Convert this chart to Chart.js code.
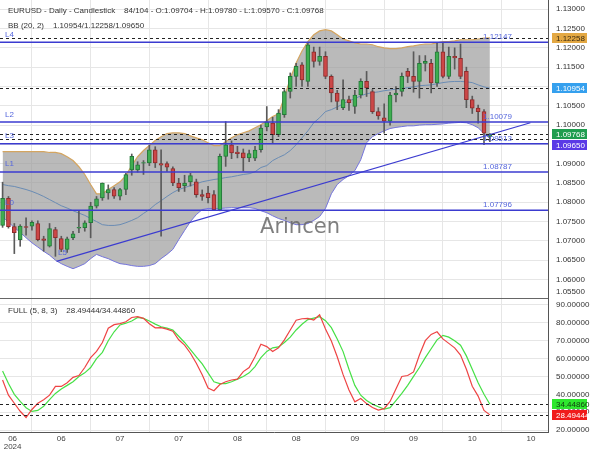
<!DOCTYPE html>
<html>
<head>
<meta charset="utf-8">
<script src="https://cdn.jsdelivr.net/npm/chart.js@4.4.1/dist/chart.umd.min.js"></script>
<style>
html,body{margin:0;padding:0;background:#ffffff;overflow:hidden;}
canvas{display:block;}
</style>
</head>
<body>
<canvas id="chart" width="600" height="450"></canvas>
<script>
// ---------------- DATA ----------------
const TITLE = 'EURUSD - Daily - Candlestick';
const BAR_COUNT = '84/104';
const BB_NAME = 'BB (20, 2)';
const STOCH_NAME = 'FULL (5, 8, 3)';
const WATERMARK = 'Arincen';

const OPEN = [1.0740,1.0810,1.0737,1.0703,1.0737,1.0738,1.0745,1.0705,1.0686,1.0729,
 1.0706,1.0678,1.0708,1.0733,1.0734,1.0747,1.0790,1.0811,1.0824,1.0833,
 1.0816,1.0833,1.0884,1.0884,1.0901,1.0902,1.0936,1.0900,1.0900,1.0887,
 1.0850,1.0843,1.0853,1.0853,1.0820,1.0824,1.0820,1.0781,1.0919,1.0949,
 1.0930,1.0928,1.0915,1.0914,1.0936,1.0995,1.1005,1.0975,1.1027,1.1087,
 1.1126,1.1156,1.1113,1.1190,1.1165,1.1178,1.1126,1.1083,1.1045,1.1066,
 1.1048,1.1078,1.1113,1.1087,1.1035,1.1019,1.1010,1.1078,1.1087,1.1139,
 1.1126,1.1113,1.1160,1.1160,1.1109,1.1190,1.1126,1.1178,1.1173,1.1139,
 1.1066,1.1044,1.1035,1.09704];
const HIGH = [1.0852,1.0815,1.0745,1.0742,1.0760,1.0752,1.0752,1.0712,1.0745,1.0735,
 1.0712,1.0710,1.0725,1.0777,1.0752,1.0800,1.0815,1.0850,1.0845,1.0838,
 1.0836,1.0875,1.0925,1.0905,1.0908,1.0948,1.0944,1.0936,1.0905,1.0892,
 1.0862,1.0870,1.0875,1.0860,1.0832,1.0841,1.0830,1.0925,1.1009,1.0959,
 1.0945,1.0938,1.0935,1.0945,1.1000,1.1048,1.1020,1.1040,1.1092,1.1135,
 1.1160,1.1162,1.1212,1.1202,1.1202,1.1190,1.1130,1.1090,1.1117,1.1075,
 1.1090,1.1120,1.1139,1.1092,1.1045,1.1055,1.1085,1.1100,1.1135,1.1147,
 1.1190,1.1180,1.1180,1.1170,1.1214,1.1212,1.1202,1.1200,1.1210,1.1150,
 1.1075,1.1052,1.1040,1.09780];
const LOW = [1.0735,1.0733,1.0667,1.0686,1.0715,1.0728,1.0700,1.0673,1.0684,1.0660,
 1.0672,1.0670,1.0703,1.0721,1.0725,1.0708,1.0785,1.0805,1.0808,1.0810,
 1.0806,1.0820,1.0870,1.0878,1.0872,1.0895,1.0890,1.0712,1.0880,1.0843,
 1.0828,1.0828,1.0842,1.0813,1.0805,1.0798,1.0778,1.0778,1.0893,1.0913,
 1.0915,1.0881,1.0905,1.0908,1.0930,1.0985,1.0954,1.0970,1.1020,1.1070,
 1.1100,1.1100,1.1100,1.1150,1.1155,1.1120,1.1060,1.1040,1.1040,1.1038,
 1.1030,1.1070,1.1074,1.1030,1.1015,1.0979,1.1000,1.1060,1.1075,1.1110,
 1.1085,1.1070,1.1140,1.1083,1.1100,1.1122,1.1120,1.1145,1.1120,1.1045,
 1.1030,1.1005,1.0949,1.09570];
const CLOSE = [1.0810,1.0737,1.0721,1.0738,1.0735,1.0748,1.0703,1.0701,1.0732,1.0708,
 1.0678,1.0705,1.0718,1.0735,1.0747,1.0790,1.0809,1.0850,1.0833,1.0816,
 1.0833,1.0872,1.0919,1.0897,1.0903,1.0936,1.0902,1.0896,1.0891,1.0850,
 1.0838,1.0850,1.0869,1.0820,1.0815,1.0812,1.0781,1.0919,1.0949,1.0928,
 1.0926,1.0915,1.0926,1.0935,1.0992,1.1008,1.0975,1.1031,1.1087,1.1126,
 1.1152,1.1117,1.1208,1.1165,1.1178,1.1126,1.1083,1.1061,1.1066,1.1058,
 1.1078,1.1113,1.1096,1.1035,1.1024,1.1010,1.1078,1.1083,1.1126,1.1126,
 1.1113,1.1160,1.1165,1.1109,1.1190,1.1126,1.1178,1.1174,1.1126,1.1066,
 1.1044,1.1035,1.0979,1.09768];

const BB_UPPER = [1.0931,1.0931,1.0931,1.0931,1.0931,1.0931,1.0931,1.0931,1.0929,1.0929,
 1.0926,1.0918,1.0908,1.0892,1.0872,1.0846,1.0822,1.0822,1.0833,1.0843,
 1.0853,1.0869,1.0895,1.0918,1.0934,1.0947,1.0960,1.0970,1.0978,1.0980,
 1.0980,1.0978,1.0972,1.0967,1.0962,1.0954,1.0947,1.0947,1.0957,1.0967,
 1.0975,1.0980,1.0985,1.0993,1.1001,1.1011,1.1022,1.1029,1.1073,1.1120,
 1.1161,1.1192,1.1216,1.1234,1.1244,1.1247,1.1244,1.1234,1.1223,1.1218,
 1.1213,1.1210,1.1210,1.1208,1.1203,1.1200,1.1198,1.1198,1.1200,1.1203,
 1.1205,1.1208,1.1210,1.1210,1.1213,1.1216,1.1216,1.1218,1.1221,1.1221,
 1.1221,1.1223,1.1225,1.12258];
const BB_MID = [1.0846,1.0843,1.0841,1.0837,1.0833,1.0828,1.0822,1.0815,1.0807,1.0799,
 1.0791,1.0785,1.0778,1.0772,1.0766,1.0758,1.0750,1.0742,1.0740,1.0740,
 1.0742,1.0747,1.0753,1.0760,1.0771,1.0781,1.0794,1.0804,1.0815,1.0825,
 1.0833,1.0838,1.0843,1.0848,1.0853,1.0856,1.0859,1.0861,1.0864,1.0866,
 1.0869,1.0872,1.0874,1.0879,1.0890,1.0895,1.0908,1.0916,1.0923,1.0934,
 1.0949,1.0967,1.0985,1.1006,1.1019,1.1035,1.1040,1.1047,1.1055,1.1063,
 1.1068,1.1076,1.1081,1.1084,1.1086,1.1089,1.1091,1.1093,1.1094,1.1097,
 1.1099,1.1102,1.1103,1.1104,1.1107,1.1110,1.1112,1.1113,1.1113,1.1112,
 1.1110,1.1104,1.1099,1.10954];
const BB_LOWER = [1.0762,1.0748,1.0735,1.0722,1.0708,1.0695,1.0684,1.0673,1.0663,1.0650,
 1.0641,1.0634,1.0628,1.0634,1.0641,1.0654,1.0665,1.0659,1.0654,1.0647,
 1.0641,1.0639,1.0636,1.0634,1.0634,1.0636,1.0641,1.0654,1.0665,1.0678,
 1.0703,1.0727,1.0750,1.0768,1.0781,1.0784,1.0784,1.0784,1.0785,1.0786,
 1.0786,1.0786,1.0786,1.0784,1.0778,1.0773,1.0765,1.0758,1.0753,1.0747,
 1.0742,1.0742,1.0745,1.0753,1.0763,1.0784,1.0822,1.0846,1.0859,1.0869,
 1.0882,1.0910,1.0954,1.0970,1.0978,1.0985,1.0991,1.0994,1.0996,1.0998,
 1.0998,1.1000,1.1001,1.1001,1.1002,1.1003,1.1005,1.1006,1.1007,1.1006,
 1.1001,1.0993,1.0978,1.0965];

const STOCH_K = [48,39.5,35,30.5,27,31.5,35,37,39.5,44.4,
 44.4,46.5,49.5,50.5,55,60.5,64,69,77,79,
 79.6,80.6,83,83.5,82.5,79.5,77.2,77.3,76.5,75.3,
 70.5,67.5,63,57.4,51,43.5,42,45.5,47,48,
 48.5,52.7,55,61,68,66.7,64,66,70.5,76,
 81.5,82.3,82.5,81.6,84.5,76.5,69.8,61,51,42.4,
 35.8,37.6,34.8,32.6,31.2,32,36,43,50,50.5,
 52.5,62,70,73.5,75,71,68.5,66,62,54,
 44.5,39,31,28.49444];
const STOCH_D = [53,46,40,36,32.5,30.4,31,33.3,37,40.5,
 43,45,47,50,52,55,60,63.5,70,75,
 78.8,79.8,81,83,82.5,81,79.3,77.8,77,76,
 72.5,69,65,61,57,52,47,46,46,47,
 48.5,50,52,55.5,60.5,64,66,66.5,69,72,
 76,79.2,81.8,82.6,83.4,81.2,77.3,71,63.9,54,
 45,39.5,36.5,34.5,33,31.7,32.5,36.5,40.5,45,
 50,55,60.5,65.5,70.5,73,72,70,67.5,61.5,
 54,46.5,40,34.4486];

const LEVEL_NAMES = ['L4','L2','L3','L1','L0'];
const LEVEL_VALUES = [1.12147, 1.10079, 1.09513, 1.08787, 1.07796];
const TREND_NAME = 'L5';
const TREND_X = [9.2, 89.9];
const TREND_Y = [1.0647, 1.1006];

const X_TICK_POS = [0,10,20,30,40,50,60,70,80,90];
const X_TICK_LABELS = ['06','06','07','07','08','08','09','09','10','10'];
const YEAR_LABEL = '2024';
const Y_TICKS = [1.055,1.060,1.065,1.070,1.075,1.080,1.085,1.090,1.095,1.100,1.105,1.110,1.115,1.120,1.125,1.130];
const STOCH_TICKS = [20,30,40,50,60,70,80,90];

// ---------------- CHART ----------------
const FONT = '"Liberation Sans", Arial, Helvetica, sans-serif';
Chart.defaults.font.family = FONT;
Chart.defaults.font.size = 8;
Chart.defaults.color = '#333';

const IDX = OPEN.map((_, i) => i);
const LAST = IDX.length - 1;
const isUp = i => CLOSE[i] >= OPEN[i];
const f5 = v => v.toFixed(5);

const X_MIN = -0.44, X_MAX = 92.9;
const Y_MIN = 1.0552, Y_MAX = 1.1324;
const S_MIN = 18.9, S_MAX = 93.9;
const MAIN_H = 298, SUB_H = 134, AXIS_W = 52, XAXIS_H = 18;
const GRID = '#e6e6e6';
const FIRST_PAD = ' '.repeat(9);

function noPad(s) { s.paddingLeft = 0; s.paddingRight = 0; s.paddingTop = 0; s.paddingBottom = 0; }

function hLine(ctx, x0, x1, py) { ctx.beginPath(); ctx.moveTo(x0, py); ctx.lineTo(x1, py); ctx.stroke(); }

function drawBoxes(ctx, scale, items) {
  const H = 10;
  const placed = items.map(it => Object.assign({}, it, {py: scale.getPixelForValue(it.v)}))
    .sort((a, b) => a.py - b.py);
  for (let i = 1; i < placed.length; i++) {
    if (placed[i].py - placed[i - 1].py < H + 1) placed[i].py = placed[i - 1].py + H + 1;
  }
  ctx.font = '8px ' + FONT;
  ctx.textAlign = 'left';
  ctx.textBaseline = 'middle';
  placed.forEach(p => {
    ctx.fillStyle = p.bg;
    ctx.fillRect(scale.left + 4, Math.round(p.py - H / 2), 35, H);
    ctx.fillStyle = p.fg;
    ctx.fillText(f5(p.v), scale.left + 8, p.py + 0.5);
  });
}

const overlay = {
  id: 'overlay',
  beforeDraw(chart) {
    const ctx = chart.ctx;
    ctx.save(); ctx.fillStyle = '#ffffff'; ctx.fillRect(0, 0, chart.width, chart.height); ctx.restore();
  },
  afterDatasetsDraw(chart) {
    const {ctx, chartArea: a} = chart;
    const {x, y, y2} = chart.scales;
    ctx.save();
    ctx.beginPath(); ctx.rect(a.left, a.top, a.right - a.left, a.bottom - a.top); ctx.clip();

    // watermark
    ctx.font = '21px "DejaVu Sans", sans-serif';
    ctx.fillStyle = 'rgba(105,105,105,0.85)';
    ctx.textAlign = 'center'; ctx.textBaseline = 'alphabetic';
    ctx.fillText(WATERMARK, 300, 232.5);

    // support / resistance levels
    ctx.strokeStyle = '#3b3bd0'; ctx.lineWidth = 1.5;
    LEVEL_VALUES.forEach(v => hLine(ctx, a.left, a.right, y.getPixelForValue(v)));

    // dashed markers of last values
    ctx.setLineDash([3, 3]); ctx.lineWidth = 1; ctx.strokeStyle = '#222';
    [BB_UPPER[LAST], BB_MID[LAST], CLOSE[LAST], BB_LOWER[LAST]].forEach(v =>
      hLine(ctx, a.left, a.right, Math.round(y.getPixelForValue(v)) + 0.5));
    [STOCH_D[LAST], STOCH_K[LAST]].forEach(v =>
      hLine(ctx, a.left, a.right, Math.round(y2.getPixelForValue(v)) + 0.5));
    ctx.setLineDash([]);

    // level labels
    ctx.font = '8px ' + FONT; ctx.fillStyle = '#5566dd';
    ctx.textAlign = 'left'; ctx.textBaseline = 'alphabetic';
    LEVEL_VALUES.forEach((v, i) => {
      const py = y.getPixelForValue(v);
      ctx.fillText(LEVEL_NAMES[i], a.left + 5, py - 5.5);
      ctx.fillText(f5(v), x.getPixelForValue(LAST - 1) - 1, py - 3);
    });
    ctx.fillText(TREND_NAME, x.getPixelForValue(TREND_X[0]) + 1.5, y.getPixelForValue(TREND_Y[0]) - 6.5);
    ctx.restore();
  },
  afterDraw(chart) {
    const {ctx, chartArea: a} = chart;
    const {y, y2} = chart.scales;
    ctx.save();
    // divider between panes
    ctx.strokeStyle = '#666'; ctx.lineWidth = 1;
    hLine(ctx, a.left, a.right, Math.round(y.bottom) + 0.5);

    // value boxes on the right axis
    drawBoxes(ctx, y, [
      {v: BB_UPPER[LAST], bg: '#e3a843', fg: '#3a2a10'},
      {v: BB_MID[LAST], bg: '#35a0ee', fg: '#ffffff'},
      {v: CLOSE[LAST], bg: '#1f9d4f', fg: '#ffffff'},
      {v: BB_LOWER[LAST], bg: '#5a3ae6', fg: '#ffffff'}
    ]);
    drawBoxes(ctx, y2, [
      {v: STOCH_D[LAST], bg: '#2ee82e', fg: '#124012'},
      {v: STOCH_K[LAST], bg: '#f01c1c', fg: '#ffffff'}
    ]);

    // headers
    ctx.font = '8px ' + FONT; ctx.fillStyle = '#333';
    ctx.textAlign = 'left'; ctx.textBaseline = 'middle';
    ctx.fillText(`${TITLE}    ${BAR_COUNT} - O:${f5(OPEN[LAST])} - H:${f5(HIGH[LAST])} - L:${f5(LOW[LAST])} - C:${f5(CLOSE[LAST])}`, 8, 11);
    ctx.fillText(`${BB_NAME}    ${f5(BB_MID[LAST])}/${f5(BB_UPPER[LAST])}/${f5(BB_LOWER[LAST])}`, 8, 26);
    ctx.fillText(`${STOCH_NAME}    ${f5(STOCH_K[LAST])}/${f5(STOCH_D[LAST])}`, 8, y2.top + 13);
    ctx.restore();
  }
};

const pts = arr => IDX.map(i => ({x: i, y: arr[i]}));

const datasets = [
  {type: 'line', label: 'BB upper', data: pts(BB_UPPER), yAxisID: 'y', borderColor: '#d4a560', borderWidth: 1.2,
   pointRadius: 0, fill: '+2', backgroundColor: 'rgba(150,150,150,0.66)', order: 10},
  {type: 'line', label: 'BB mid', data: pts(BB_MID), yAxisID: 'y', borderColor: '#6a8cb4', borderWidth: 1,
   pointRadius: 0, fill: false, order: 9},
  {type: 'line', label: 'BB lower', data: pts(BB_LOWER), yAxisID: 'y', borderColor: '#7575dc', borderWidth: 1,
   pointRadius: 0, fill: false, order: 9},
  {type: 'bar', label: 'wick', data: IDX.map(i => ({x: i, y: [LOW[i], HIGH[i]]})), yAxisID: 'y',
   backgroundColor: '#5a5a5a', barThickness: 1, grouped: false, order: 6},
  {type: 'bar', label: 'body', data: IDX.map(i => ({x: i, y: [OPEN[i], CLOSE[i]]})), yAxisID: 'y',
   backgroundColor: IDX.map(i => isUp(i) ? '#3fae50' : '#cc4747'),
   borderColor: IDX.map(i => isUp(i) ? '#24783a' : '#8e2b2b'),
   borderWidth: 1, borderSkipped: false, barThickness: 4, grouped: false, order: 5},
  {type: 'line', label: 'trend', data: TREND_X.map((v, i) => ({x: v, y: TREND_Y[i]})), yAxisID: 'y',
   borderColor: '#3b3bd0', borderWidth: 1.2, pointRadius: 0, fill: false, order: 4},
  {type: 'line', label: '%D', data: pts(STOCH_D), yAxisID: 'y2', borderColor: '#46e046', borderWidth: 1.2,
   pointRadius: 0, fill: false, order: 3},
  {type: 'line', label: '%K', data: pts(STOCH_K), yAxisID: 'y2', borderColor: '#ee4444', borderWidth: 1.2,
   pointRadius: 0, fill: false, order: 2}
];

new Chart(document.getElementById('chart'), {
  type: 'line',
  data: {datasets},
  options: {
    responsive: false, animation: false, devicePixelRatio: 1, events: [],
    layout: {padding: 0},
    elements: {line: {tension: 0}},
    plugins: {legend: {display: false}, tooltip: {enabled: false}, title: {display: false}},
    scales: {
      x: {
        type: 'linear', position: 'bottom', min: X_MIN, max: X_MAX, offset: false,
        grid: {color: GRID, drawTicks: false},
        border: {display: true, color: '#555'},
        ticks: {
          autoSkip: false, maxRotation: 0, padding: 3, color: '#444',
          font: {size: 8, lineHeight: 1},
          callback: (v, i) => i === 0 ? [FIRST_PAD + X_TICK_LABELS[0], FIRST_PAD + YEAR_LABEL] : X_TICK_LABELS[i]
        },
        afterBuildTicks: s => { s.ticks = X_TICK_POS.map(v => ({value: v})); },
        afterFit: s => { s.height = XAXIS_H; noPad(s); }
      },
      y: {
        type: 'linear', position: 'right', stack: 'panes', stackWeight: MAIN_H,
        min: Y_MIN, max: Y_MAX,
        grid: {color: c => c.index === 0 ? 'rgba(0,0,0,0)' : GRID, drawTicks: false},
        border: {display: true, color: '#555'},
        ticks: {autoSkip: false, padding: 8, color: '#333', font: {size: 8},
          callback: (v, i) => f5(Y_TICKS[i])},
        afterBuildTicks: s => {
          const lo = s.min + (s.max - s.min) * 6 / MAIN_H;
          s.ticks = Y_TICKS.map(v => ({value: Math.max(v, lo)}));
        },
        afterFit: s => { s.width = AXIS_W; noPad(s); }
      },
      y2: {
        type: 'linear', position: 'right', stack: 'panes', stackWeight: SUB_H,
        min: S_MIN, max: S_MAX,
        grid: {color: GRID, drawTicks: false},
        border: {display: true, color: '#555'},
        ticks: {autoSkip: false, padding: 8, color: '#333', font: {size: 8},
          callback: (v, i) => f5(STOCH_TICKS[i])},
        afterBuildTicks: s => { s.ticks = STOCH_TICKS.map(v => ({value: v})); },
        afterFit: s => { s.width = AXIS_W; noPad(s); }
      }
    }
  },
  plugins: [overlay]
});
</script>
</body>
</html>
